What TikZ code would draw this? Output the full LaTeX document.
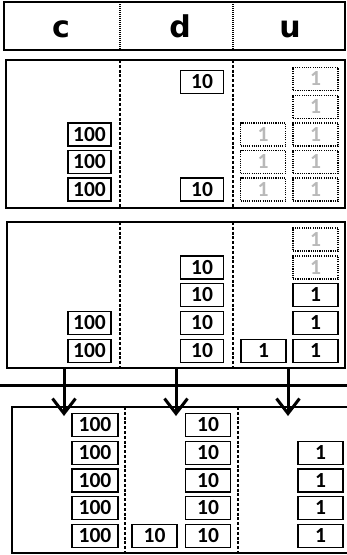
\documentclass[tikz,border=0pt]{standalone}
\usepackage{fontspec}
\usetikzlibrary{arrows.meta}
\newfontfamily\numfont{Carlito}
\newfontfamily\headfont{DejaVu Sans}
\definecolor{ghostgray}{RGB}{185,185,185}
\tikzset{
  coin/.style={draw, line width=1.3pt, minimum width=43pt, minimum height=23pt, inner sep=0pt,
    font=\numfont\bfseries\fontsize{21.5}{21.5}\selectfont},
  coinw/.style={coin, minimum width=45pt},
  ghost/.style={coinw, dash pattern=on 1.1pt off 1.1pt, text=ghostgray},
  panel/.style={draw, line width=1.4pt},
  coldiv/.style={draw, line width=1.3pt, dash pattern=on 3pt off 1.8pt},
  headdiv/.style={draw, line width=1.2pt, dash pattern=on 1pt off 1pt},
  headlbl/.style={font=\headfont\bfseries\fontsize{30}{30}\selectfont, inner sep=0pt, anchor=base},
  flow/.style={line width=3pt, -{Straight Barb[length=15pt,width=23pt,line width=3pt]}}
}
\begin{document}
\begin{tikzpicture}[x=1pt,y=-1pt]
\useasboundingbox (0,0) rectangle (347,555);
\clip (0,0) rectangle (347,555);
\fill[white] (0,0) rectangle (347,555);
% header
\draw[panel] (4,2) rectangle (345,50);
\draw[headdiv] (120,2) -- (120,50);
\draw[headdiv] (233,2) -- (233,50);
\node[headlbl] (hc) at (61,37) {c};
\node[headlbl] (hd) at (180,37) {d};
\node[headlbl] (hu) at (290,37) {u};
% panel 1
\draw[panel] (6,60) rectangle (345,208);
\draw[coldiv] (120,60) -- (120,208);
\draw[coldiv] (233,60) -- (233,208);
\node[coin] (p1c1) at (89.5,134.5) {100};
\node[coin] (p1c2) at (89.5,162) {100};
\node[coin] (p1c3) at (89.5,189.5) {100};
\node[coin] (p1d1) at (202,82) {10};
\node[coin] (p1d2) at (202,189.5) {10};
\node[ghost] (p1u1) at (315.5,79) {1};
\node[ghost] (p1u2) at (315.5,107) {1};
\node[ghost] (p1u3) at (315.5,134.5) {1};
\node[ghost] (p1u4) at (315.5,162) {1};
\node[ghost] (p1u5) at (315.5,189.5) {1};
\node[ghost] (p1v3) at (263,134.5) {1};
\node[ghost] (p1v4) at (263,162) {1};
\node[ghost] (p1v5) at (263,189.5) {1};
% panel 2
\draw[panel] (7,222) rectangle (345,368);
\draw[coldiv] (120,222) -- (120,368);
\draw[coldiv] (233,222) -- (233,368);
\node[coin] (p2c1) at (89.5,323) {100};
\node[coin] (p2c2) at (89.5,351) {100};
\node[coin] (p2d1) at (202,267.5) {10};
\node[coin] (p2d2) at (202,295) {10};
\node[coin] (p2d3) at (202,323) {10};
\node[coin] (p2d4) at (202,351) {10};
\node[ghost] (p2u1) at (315.5,239.5) {1};
\node[ghost] (p2u2) at (315.5,267.5) {1};
\node[coinw] (p2u3) at (315.5,295) {1};
\node[coinw] (p2u4) at (315.5,323) {1};
\node[coinw] (p2u5) at (315.5,351) {1};
\node[coinw] (p2v5) at (263.5,351) {1};
% bar and arrows
\coordinate (barL) at (0,385);
\coordinate (barR) at (347,385);
\draw[line width=3pt] (barL) -- (barR);
\coordinate (a1s) at (64,368.7);
\coordinate (a2s) at (176,368.7);
\coordinate (a3s) at (288,368.7);
\coordinate (a1e) at (64,416);
\coordinate (a2e) at (176,416);
\coordinate (a3e) at (288,416);
% bottom panel
\draw[panel] (12,407) rectangle (355,553);
\draw[coldiv] (125,407) -- (125,553);
\draw[coldiv] (238,407) -- (238,553);
\draw[flow] (a1s) -- (a1e);
\draw[flow] (a2s) -- (a2e);
\draw[flow] (a3s) -- (a3e);
\node[coin, minimum width=46pt] (bc1) at (95,425) {100};
\node[coin, minimum width=46pt] (bc2) at (95,453) {100};
\node[coin, minimum width=46pt] (bc3) at (95,480.5) {100};
\node[coin, minimum width=46pt] (bc4) at (95,508) {100};
\node[coin, minimum width=46pt] (bc5) at (95,536) {100};
\node[coinw] (bd1) at (208,425) {10};
\node[coinw] (bd2) at (208,453) {10};
\node[coinw] (bd3) at (208,480.5) {10};
\node[coinw] (bd4) at (208,508) {10};
\node[coinw] (bd5) at (208,536) {10};
\node[coinw] (be5) at (154.5,536) {10};
\node[coinw] (bu2) at (320.5,453) {1};
\node[coinw] (bu3) at (320.5,480.5) {1};
\node[coinw] (bu4) at (320.5,508) {1};
\node[coinw] (bu5) at (320.5,536) {1};
\end{tikzpicture}
\end{document}
